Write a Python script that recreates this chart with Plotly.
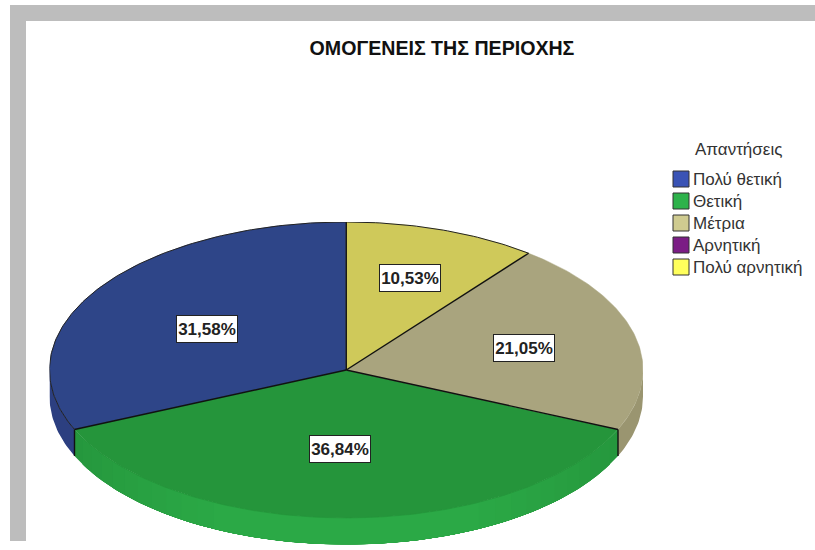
import numpy as np
import plotly.graph_objects as go

# ---- data ----
title = "ΟΜΟΓΕΝΕΙΣ ΤΗΣ ΠΕΡΙΟΧΗΣ"
legend_title = "Απαντήσεις"
categories = ["Πολύ θετική", "Θετική", "Μέτρια", "Αρνητική", "Πολύ αρνητική"]
values = [31.58, 36.84, 21.05, 0.0, 10.53]
labels = ["31,58%", "36,84%", "21,05%", "", "10,53%"]

# ---- style ----
top_colors = ["#2E4588", "#25953B", "#A9A47E", "#6B1F78", "#CFC95A"]
side_edge = ["#2C3F80", "#25973D", "#9A9570", "#5E1A6A", "#BDB850"]
side_mid = ["#2C3F80", "#2BA946", "#9A9570", "#5E1A6A", "#BDB850"]
legend_colors = ["#3A53B5", "#2DB24B", "#CFCB90", "#7B1D85", "#FFFF5C"]
label_radius = [0.535, 0.535, 0.63, 0.6, 0.635]
label_shift = [(-6, 2), (-6, 0), (-3, 1), (0, 0), (3, -3)]
W, H = 815, 550
LEFT, RIGHT, TOP, BOTTOM = 49.5, 643, 222, 518
DEPTH = 26.5 / ((BOTTOM - TOP) / 2)  # extrude depth in data units
FONT = "Liberation Sans"


def arc(a0, a1):
    """Points on the unit circle; angle in percent, counter-clockwise from 12 o'clock."""
    t = np.linspace(a0, a1, max(3, int(abs(a1 - a0) * 4) + 2)) * 2 * np.pi / 100
    return -np.sin(t), np.cos(t)


def mix(c0, c1, f):
    a = [int(c0[k:k + 2], 16) for k in (1, 3, 5)]
    b = [int(c1[k:k + 2], 16) for k in (1, 3, 5)]
    return "#" + "".join(f"{round(p + (q - p) * f):02X}" for p, q in zip(a, b))


fig = go.Figure()
common = dict(mode="lines", hoverinfo="skip", showlegend=False)

bounds = np.concatenate([[0], np.cumsum(values)])
bounds = bounds / bounds[-1] * 100

# side wall: the part of each slice on the front half (25..75 percent);
# nested bands, narrowing toward the middle, brighten the front without seams
for i in range(len(values)):
    a0, a1 = max(bounds[i], 25), min(bounds[i + 1], 75)
    if a1 <= a0:
        continue
    levels = 12 if side_edge[i] != side_mid[i] else 1
    for k in range(levels):
        f = k / max(levels - 1, 1)
        inset = f * (a1 - a0) * 0.30
        x, y = arc(a0 + inset, a1 - inset)
        col = mix(side_edge[i], side_mid[i], f)
        fig.add_trace(go.Scatter(x=np.concatenate([x, x[::-1]]),
                                 y=np.concatenate([y, y[::-1] - DEPTH]),
                                 fill="toself", fillcolor=col,
                                 line=dict(width=0), **common))

# top face wedges
for i in range(len(values)):
    if values[i] == 0:
        continue
    x, y = arc(bounds[i], bounds[i + 1])
    fig.add_trace(go.Scatter(x=np.concatenate([[0], x, [0]]), y=np.concatenate([[0], y, [0]]),
                             fill="toself", fillcolor=top_colors[i],
                             line=dict(width=0.5, color=top_colors[i]), **common))

# black outlines: spokes, the rear rim, and front vertical edges
edge = dict(color="#111111", width=1.4)
for i in range(len(values)):
    if values[i] == 0:
        continue
    x, y = arc(bounds[i], bounds[i])
    fig.add_trace(go.Scatter(x=[0, x[0]], y=[0, y[0]], line=edge, **common))
    if 25 <= bounds[i] <= 75 and bounds[i] > 0:
        fig.add_trace(go.Scatter(x=[x[0], x[0]], y=[y[0], y[0] - DEPTH], line=edge, **common))
rim = dict(color="#222222", width=1)
x, y = arc(bounds[3], 100 + bounds[1])
fig.add_trace(go.Scatter(x=x, y=y, line=rim, **common))

# percentage labels
for i in range(len(values)):
    if values[i] == 0:
        continue
    mid = (bounds[i] + bounds[i + 1]) / 2
    x, y = arc(mid, mid)
    fig.add_annotation(x=x[0] * label_radius[i], y=y[0] * label_radius[i], text=f"<b>{labels[i]}</b>",
                       xshift=label_shift[i][0], yshift=-label_shift[i][1],
                       showarrow=False, bgcolor="white", bordercolor="#222222", borderwidth=1,
                       width=58, height=24, borderpad=1,
                       font=dict(family=FONT, size=17, color="#222222"))

# legend: title, swatches and labels
text_col = "#333333"
LX, LY0, LSTEP = 673, 179, 22
fig.add_annotation(xref="paper", yref="paper", x=693 / W, y=1 - 149 / H, text=legend_title,
                   showarrow=False, xanchor="left", yanchor="middle",
                   font=dict(family=FONT, size=17, color=text_col))
shapes = []
for i, (name, col) in enumerate(zip(categories, legend_colors)):
    yc = LY0 + i * LSTEP
    shapes.append(dict(type="rect", xref="paper", yref="paper", x0=LX / W, x1=(LX + 16) / W,
                       y0=1 - (yc + 8) / H, y1=1 - (yc - 8) / H, fillcolor=col,
                       line=dict(color="#333333", width=1)))
    fig.add_annotation(xref="paper", yref="paper", x=691 / W, y=1 - yc / H, text=name,
                       showarrow=False, xanchor="left", yanchor="middle",
                       font=dict(family=FONT, size=17, color=text_col))

grey = "#BDBDBD"
shapes += [
    dict(type="rect", xref="paper", yref="paper", x0=10 / W, x1=1, y0=1 - 21 / H, y1=1 - 5 / H,
         fillcolor=grey, line=dict(width=0), layer="below"),
    dict(type="rect", xref="paper", yref="paper", x0=10 / W, x1=26 / W, y0=1 - 541 / H, y1=1 - 5 / H,
         fillcolor=grey, line=dict(width=0), layer="below"),
]
fig.update_layout(
    width=W, height=H, margin=dict(l=0, r=0, t=0, b=0), showlegend=False,
    paper_bgcolor="white", plot_bgcolor="rgba(0,0,0,0)",
    title=dict(text=f"<b>{title}</b>", x=442 / W, xanchor="center", y=1 - 48 / H, yanchor="middle",
               font=dict(family=FONT, size=19.6, color="#111111")),
    xaxis=dict(domain=[LEFT / W, RIGHT / W], range=[-1, 1], visible=False, fixedrange=True),
    yaxis=dict(domain=[1 - (BOTTOM + 26.5) / H, 1 - TOP / H], range=[-1 - DEPTH, 1], visible=False,
               fixedrange=True),
    shapes=shapes,
)
fig.write_html("out.html", config={"displayModeBar": False},
               post_script="document.body.style.margin='0';")
